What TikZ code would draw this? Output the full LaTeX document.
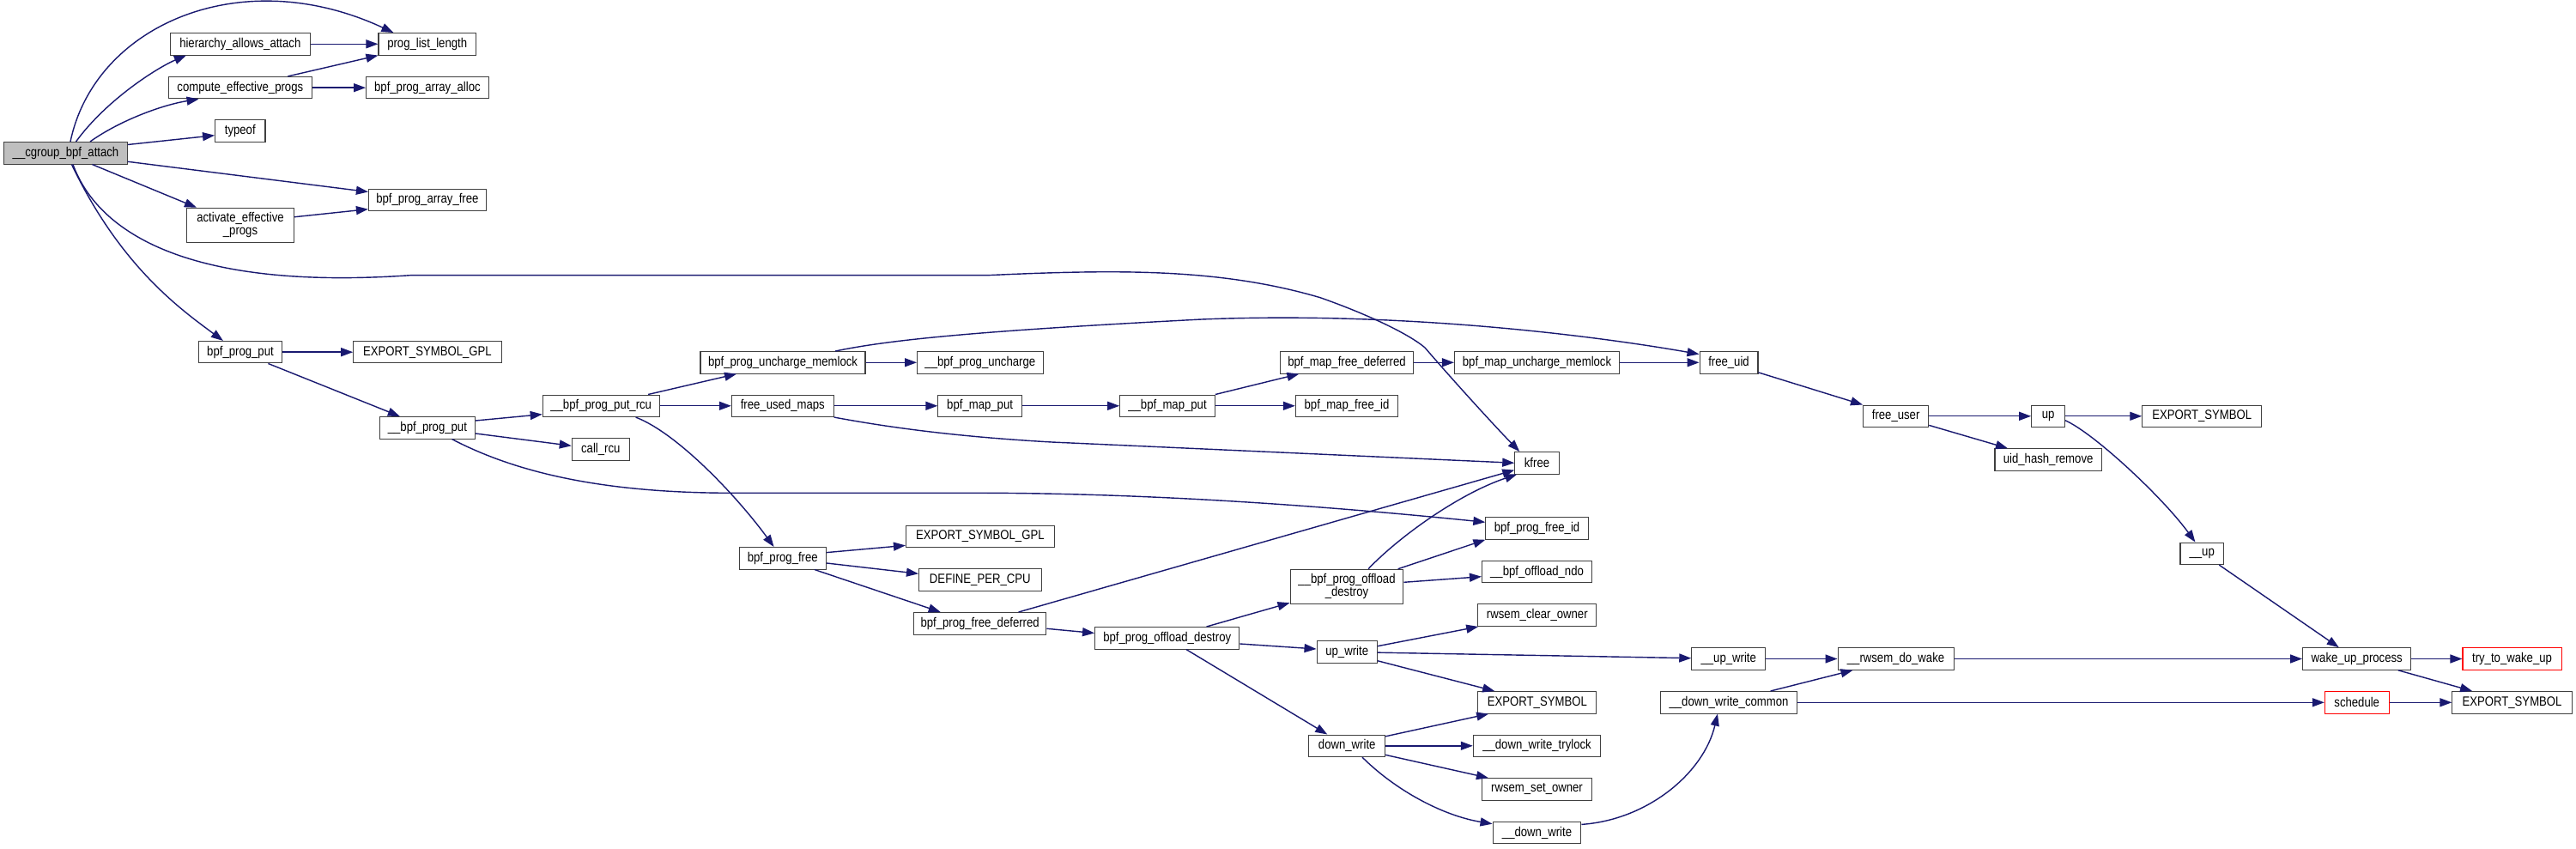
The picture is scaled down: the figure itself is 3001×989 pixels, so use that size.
\documentclass[tikz,border=0pt]{standalone}
\usepackage{fontspec}
\setmainfont[FakeStretch=0.85]{Liberation Sans}
\usetikzlibrary{arrows.meta,calc}
\definecolor{edgeblue}{HTML}{191970}
\definecolor{rootgrey}{HTML}{BFBFBF}
\begin{document}
\begin{tikzpicture}[x=0.01cm,y=-0.01cm,
  box/.style={draw=black!75,line width=0.3pt,fill=white,inner sep=0pt,minimum height=0.255cm,font=\fontsize{4.4}{4.3}\selectfont,align=center},
  boxtwo/.style={box,minimum height=0.4cm},
  redbox/.style={box,draw=red},
  e/.style={draw=edgeblue,line width=0.4pt,-{Triangle[length=0.14cm,width=0.1cm]}}]
\useasboundingbox (0,0) rectangle (3001,989);
\fill[white] (0,0) rectangle (3001,989);
% nodes
\node[box,fill=rootgrey,minimum width=1.435cm] (attach) at (76.5,178.3) {\_\_cgroup\_bpf\_attach};
\node[box,minimum width=1.626cm] (ha) at (279.8,51.3) {hierarchy\_allows\_attach};
\node[box,minimum width=1.134cm] (pll) at (497.7,51.3) {prog\_list\_length};
\node[box,minimum width=1.674cm] (cep) at (279.8,102.2) {compute\_effective\_progs};
\node[box,minimum width=1.426cm] (paa) at (497.9,102.2) {bpf\_prog\_array\_alloc};
\node[box,minimum width=0.584cm] (typeof) at (279.8,152.7) {typeof};
\node[box,minimum width=1.368cm] (paf) at (497.9,232.8) {bpf\_prog\_array\_free};
\node[boxtwo,minimum width=1.249cm] (aep) at (280,262.3) {activate\_effective\\\_progs};
\node[box,minimum width=0.971cm] (bpp) at (280,410.2) {bpf\_prog\_put};
\node[box,minimum width=1.722cm] (esg1) at (497.9,410.2) {EXPORT\_SYMBOL\_GPL};
\node[box,minimum width=1.11cm] (ubpp) at (497.9,498.3) {\_\_bpf\_prog\_put};
\node[box,minimum width=1.358cm] (rcu) at (700.2,472.8) {\_\_bpf\_prog\_put\_rcu};
\node[box,minimum width=0.67cm] (callrcu) at (699.8,523.7) {call\_rcu};
\node[box,minimum width=1.919cm] (pum) at (912,422.3) {bpf\_prog\_uncharge\_memlock};
\node[box,minimum width=1.464cm] (upu) at (1141.8,422.3) {\_\_bpf\_prog\_uncharge};
\node[box,minimum width=1.188cm] (fum) at (911.8,472.8) {free\_used\_maps};
\node[box,minimum width=0.974cm] (bmp) at (1141.6,472.8) {bpf\_map\_put};
\node[box,minimum width=1.105cm] (ubmp) at (1360,472.8) {\_\_bpf\_map\_put};
\node[box,minimum width=1.551cm] (bmfd) at (1569,422.3) {bpf\_map\_free\_deferred};
\node[box,minimum width=1.92cm] (bmum) at (1790.5,422.3) {bpf\_map\_uncharge\_memlock};
\node[box,minimum width=0.679cm] (fuid) at (2014,422.3) {free\_uid};
\node[box,minimum width=1.192cm] (bmfi) at (1569,472.8) {bpf\_map\_free\_id};
\node[box,minimum width=0.761cm] (fuser) at (2208.6,484.8) {free\_user};
\node[box,minimum width=0.388cm] (up) at (2386.1,484.8) {up};
\node[box,minimum width=1.388cm] (es1) at (2565.2,484.8) {EXPORT\_SYMBOL};
\node[box,minimum width=1.242cm] (uhr) at (2386.1,535.5) {uid\_hash\_remove};
\node[box,minimum width=0.505cm] (uup) at (2565.2,644.8) {\_\_up};
\node[box,minimum width=1.013cm] (bpfree) at (911.8,650.3) {bpf\_prog\_free};
\node[box,minimum width=1.726cm] (esg2) at (1141.8,624.8) {EXPORT\_SYMBOL\_GPL};
\node[box,minimum width=1.425cm] (dpc) at (1141.8,675.5) {DEFINE\_PER\_CPU};
\node[box,minimum width=1.546cm] (pfd) at (1141.6,726.3) {bpf\_prog\_free\_deferred};
\node[box,minimum width=1.682cm] (pod) at (1359.7,743.3) {bpf\_prog\_offload\_destroy};
\node[box,minimum width=0.514cm] (kfree) at (1790.5,539.3) {kfree};
\node[box,minimum width=1.192cm] (pfi) at (1790.5,615.5) {bpf\_prog\_free\_id};
\node[box,minimum width=1.28cm] (ondo) at (1790.5,666.2) {\_\_bpf\_offload\_ndo};
\node[boxtwo,minimum width=1.318cm] (upod) at (1569,683.3) {\_\_bpf\_prog\_offload\\\_destroy};
\node[box,minimum width=1.381cm] (rco) at (1790.8,716.7) {rwsem\_clear\_owner};
\node[box,minimum width=0.703cm] (upw) at (1569.2,759.5) {up\_write};
\node[box,minimum width=0.858cm] (uupw) at (2013.7,767.5) {\_\_up\_write};
\node[box,minimum width=1.349cm] (rdw) at (2208.5,767.5) {\_\_rwsem\_do\_wake};
\node[box,minimum width=1.381cm] (es2) at (1790.8,818.3) {EXPORT\_SYMBOL};
\node[box,minimum width=1.59cm] (dwc) at (2014,818.3) {\_\_down\_write\_common};
\node[box,minimum width=0.887cm] (dw) at (1569.2,868.8) {down\_write};
\node[box,minimum width=1.483cm] (dwt) at (1790.5,868.8) {\_\_down\_write\_trylock};
\node[box,minimum width=1.28cm] (rso) at (1790.5,919.5) {rwsem\_set\_owner};
\node[box,minimum width=1.028cm] (udw) at (1790.5,970) {\_\_down\_write};
\node[box,minimum width=1.262cm] (wup) at (2745.7,767.5) {wake\_up\_process};
\node[redbox,minimum width=1.15cm] (ttwu) at (2926.5,767.5) {try\_to\_wake\_up};
\node[redbox,minimum width=0.747cm] (sched) at (2745.7,818.3) {schedule};
\node[box,minimum width=1.393cm] (es3) at (2926.5,818.3) {EXPORT\_SYMBOL};
% edges
\draw[e] ($(attach.north)+(5.5,0)$) .. controls (110,30) and (280,-45) .. ($(pll.north west)+(18,0)$);
\draw[e] ($(attach.north)+(12,0)$) .. controls (125,115) and (185,78) .. ($(ha.south west)+(19,0)$);
\draw[e] (ha) -- (pll);
\draw[e] ($(cep.north east)+(-28.7,0)$) -- (pll.south west);
\draw[e] ($(attach.north)+(28.5,0)$) .. controls (140,140) and (190,122) .. ($(cep.south west)+(36,0)$);
\draw[e] (cep) -- (paa);
\draw[e] ($(attach.north east)+(0,3.5)$) -- ($(typeof.west)+(0,5)$);
\draw[e] ($(attach.south east)+(0,-3.3)$) -- ($(paf.north west)+(0,4)$);
\draw[e] ($(attach.south)+(31,0)$) -- ($(aep.north west)+(12,0)$);
\draw[e] ($(aep.north east)+(0,11)$) -- ($(paf.south west)+(0,-2.4)$);
\draw[e] ($(attach.south)+(8.5,0)$) .. controls (110,260) and (200,340) .. (478,320.7) -- (1150,320.7) .. controls (1300,314) and (1420,312) .. (1538,346.7) .. controls (1590,365) and (1640,388) .. (1660,405) .. controls (1690,440) and (1740,495) .. ($(kfree.north west)+(6,0)$);
\draw[e] ($(attach.south)+(7,0)$) .. controls (140,310) and (210,360) .. ($(bpp.north west)+(29,0)$);
\draw[e] (bpp) -- (esg1);
\draw[e] ($(bpp.south east)+(-16.7,0)$) -- ($(ubpp.north west)+(24,0)$);
\draw[e] ($(ubpp.north east)+(0,5)$) -- ($(rcu.south west)+(0,-3.4)$);
\draw[e] ($(ubpp.east)+(0,6.7)$) -- ($(callrcu.west)+(0,-4.4)$);
\draw[e] ($(ubpp.south east)+(-27.4,0)$) .. controls (600,550) and (700,574) .. (850,574.3) -- (1150,574.3) .. controls (1350,575) and (1550,590) .. ($(pfi.west)+(0,-7.2)$);
\draw[e] ($(rcu.north east)+(-13.6,0)$) -- ($(pum.south west)+(42.6,0)$);
\draw[e] (rcu) -- (fum);
\draw[e] ($(rcu.south east)+(-28,0)$) .. controls (790,505) and (860,580) .. ($(bpfree.north west)+(41,0)$);
\draw[e] (pum) -- (upu);
\draw[e] ($(pum.north east)+(-35.3,0)$) .. controls (1040,395) and (1150,385) .. (1400,372) .. controls (1650,362) and (1880,395) .. ($(fuid.north west)+(0,3.6)$);
\draw[e] (fum) -- (bmp);
\draw[e] (fum.south east) .. controls (1020,495) and (1100,508) .. (1225,515) -- (kfree.west);
\draw[e] (bmp) -- (ubmp);
\draw[e] (ubmp.north east) -- ($(bmfd.south west)+(22.5,0)$);
\draw[e] (ubmp) -- (bmfi);
\draw[e] (bmfd) -- (bmum);
\draw[e] (bmum) -- (fuid);
\draw[e] ($(fuid.south east)+(0,-1.7)$) -- (fuser.north west);
\draw[e] (fuser) -- (up);
\draw[e] ($(fuser.south east)+(0,-2.7)$) -- ($(uhr.north west)+(15.5,0)$);
\draw[e] (up) -- (es1);
\draw[e] ($(up.east)+(0,5)$) .. controls (2440,505) and (2520,580) .. ($(uup.north west)+(18,0)$);
\draw[e] ($(uup.south east)+(-5.8,0)$) -- ($(wup.north west)+(42.7,0)$);
\draw[e] (wup) -- (ttwu);
\draw[e] ($(wup.south east)+(-15.6,0)$) -- ($(es3.north west)+(23.8,0)$);
\draw[e] (sched) -- (es3);
\draw[e] (rdw) -- (wup);
\draw[e] (dwc) -- (sched);
\draw[e] ($(dwc.north east)+(-31.5,0)$) -- ($(rdw.south west)+(18,0)$);
\draw[e] (uupw) -- (rdw);
\draw[e] (upw) -- (uupw);
\draw[e] ($(upw.east)+(0,-6.8)$) -- ($(rco.south west)+(1,0)$);
\draw[e] ($(upw.south east)+(0,-3)$) -- ($(es2.north west)+(20,0)$);
\draw[e] ($(dw.north east)+(0,2.3)$) -- ($(es2.south west)+(13,0)$);
\draw[e] (dw) -- (dwt);
\draw[e] ($(dw.south east)+(0,-2.7)$) -- ($(rso.north west)+(8,0)$);
\draw[e] ($(dw.south)+(17.8,0)$) .. controls (1625,920) and (1680,950) .. ($(udw.north west)+(0,3)$);
\draw[e] ($(udw.north east)+(0,3.7)$) .. controls (1920,955) and (1985,900) .. ($(dwc.south west)+(67,0)$);
\draw[e] ($(bpfree.north east)+(0,6.6)$) -- ($(esg2.south west)+(0,-2.7)$);
\draw[e] ($(bpfree.east)+(0,5.7)$) -- ($(dpc.west)+(0,-7.2)$);
\draw[e] ($(bpfree.south east)+(-14,0)$) -- ($(pfd.north west)+(32,0)$);
\draw[e] ($(pfd.north east)+(-32.9,0)$) -- ($(kfree.south west)+(0,-5)$);
\draw[e] ($(pfd.east)+(0,6)$) -- ($(pod.west)+(0,-5.8)$);
\draw[e] ($(pod.north east)+(-38.8,0)$) -- ($(upod.south west)+(0,-1.6)$);
\draw[e] ($(pod.east)+(0,6.7)$) -- ($(upw.west)+(0,-3.5)$);
\draw[e] ($(pod.south)+(22.3,0)$) -- ($(dw.north west)+(22,0)$);
\draw[e] ($(upod.north)+(25,0)$) .. controls (1630,625) and (1700,575) .. ($(kfree.south west)+(3,0)$);
\draw[e] ($(upod.north east)+(-6.9,0)$) -- (pfi.south west);
\draw[e] ($(upod.east)+(0,-5)$) -- ($(ondo.west)+(0,5.5)$);
\end{tikzpicture}
\end{document}
